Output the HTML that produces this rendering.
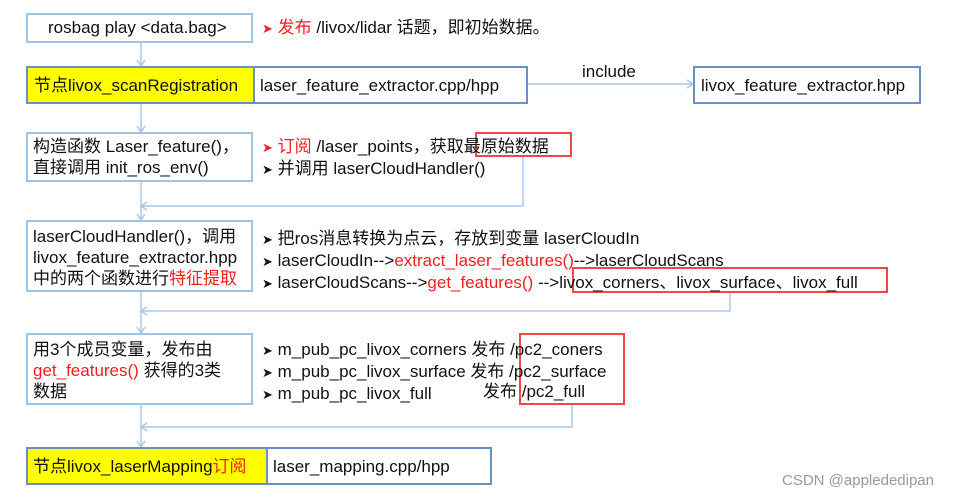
<!DOCTYPE html>
<html><head><meta charset="utf-8"><style>
body{margin:0;width:969px;height:498px;background:#fff;position:relative;overflow:hidden;font-family:"Liberation Sans","Noto Sans CJK SC",sans-serif;font-size:17px;color:#111}
.b{position:absolute;box-sizing:border-box;border:2px solid #9dc3e6}
.n{position:absolute;box-sizing:border-box;border:2px solid #6f8fbf}
.y{background:#ffff00}
.r{position:absolute;box-sizing:border-box;border:2px solid #f04848}
.t{position:absolute;white-space:nowrap;line-height:21px}
.red{color:#f02020}
.ar{font-size:13px}
</style></head><body>
<svg width="969" height="498" style="position:absolute;left:0;top:0" fill="none" stroke="#a9c8ea" stroke-width="1.5">
<line x1="141" y1="42" x2="141" y2="66"/><path d="M137,60 L141,66 L145,60"/>
<line x1="141" y1="104" x2="141" y2="132"/><path d="M137,126 L141,132 L145,126"/>
<line x1="528" y1="84" x2="693" y2="84"/><path d="M687,80 L693,84 L687,88"/>
<polyline points="523,157 523,206 141,206"/><path d="M147,202 L141,206 L147,210"/>
<line x1="141" y1="182" x2="141" y2="220"/><path d="M137,214 L141,220 L145,214"/>
<polyline points="730,292 730,311 141,311"/><path d="M147,307 L141,311 L147,315"/>
<line x1="141" y1="292" x2="141" y2="333"/><path d="M137,327 L141,333 L145,327"/>
<polyline points="572,405 572,427 141,427"/><path d="M147,423 L141,427 L147,431"/>
<line x1="141" y1="405" x2="141" y2="447"/><path d="M137,441 L141,447 L145,441"/>
</svg>
<div class="b" style="left:26px;top:13px;width:227px;height:30px"></div>
<div class="t" style="left:48px;top:17px">rosbag play &lt;data.bag&gt;</div>
<div class="t" style="left:262px;top:17px"><span class="red ar">➤</span> <span class="red">发布</span> /livox/lidar 话题，即初始数据。</div>

<div class="n y" style="left:26px;top:66px;width:229px;height:38px"></div>
<div class="n" style="left:253px;top:66px;width:275px;height:38px"></div>
<div class="t" style="left:34px;top:75px">节点livox_scanRegistration</div>
<div class="t" style="left:260px;top:75px">laser_feature_extractor.cpp/hpp</div>
<div class="t" style="left:582px;top:61px">include</div>
<div class="n" style="left:693px;top:66px;width:228px;height:38px"></div>
<div class="t" style="left:701px;top:75px">livox_feature_extractor.hpp</div>

<div class="b" style="left:26px;top:132px;width:227px;height:50px"></div>
<div class="t" style="left:33px;top:136px">构造函数 Laser_feature()，<br>直接调用 init_ros_env()</div>
<div class="r" style="left:475px;top:132px;width:97px;height:25px"></div>
<div class="t" style="left:262px;top:136px"><span class="red ar">➤</span> <span class="red">订阅</span> /laser_points，获取最原始数据<br><span class="ar">➤</span> 并调用 laserCloudHandler()</div>

<div class="b" style="left:26px;top:220px;width:227px;height:72px"></div>
<div class="t" style="left:33px;top:226px">laserCloudHandler()，调用<br>livox_feature_extractor.hpp<br>中的两个函数进行<span class="red">特征提取</span></div>
<div class="r" style="left:572px;top:267px;width:316px;height:26px"></div>
<div class="t" style="left:262px;top:228px"><span class="ar">➤</span> 把ros消息转换为点云，存放到变量 laserCloudIn<br><span class="ar">➤</span> laserCloudIn--&gt;<span class="red">extract_laser_features()</span>--&gt;laserCloudScans<br><span class="ar">➤</span> laserCloudScans--&gt;<span class="red">get_features()</span> --&gt;livox_corners、livox_surface、livox_full</div>

<div class="b" style="left:26px;top:333px;width:227px;height:72px"></div>
<div class="t" style="left:33px;top:339px">用3个成员变量，发布由<br><span class="red">get_features()</span> 获得的3类<br>数据</div>
<div class="r" style="left:519px;top:333px;width:106px;height:72px"></div>
<div class="t" style="left:262px;top:339px"><span class="ar">➤</span> m_pub_pc_livox_corners 发布 /pc2_coners<br><span class="ar">➤</span> m_pub_pc_livox_surface 发布 /pc2_surface<br><span class="ar">➤</span> m_pub_pc_livox_full</div>
<div class="t" style="left:483px;top:381px">发布 /pc2_full</div>

<div class="n y" style="left:26px;top:447px;width:242px;height:38px"></div>
<div class="n" style="left:266px;top:447px;width:226px;height:38px"></div>
<div class="t" style="left:33px;top:456px">节点livox_laserMapping<span class="red">订阅</span></div>
<div class="t" style="left:273px;top:456px">laser_mapping.cpp/hpp</div>
<div class="t" style="left:782px;top:470px;color:#999;font-size:15px">CSDN @applededipan</div>
</body></html>
